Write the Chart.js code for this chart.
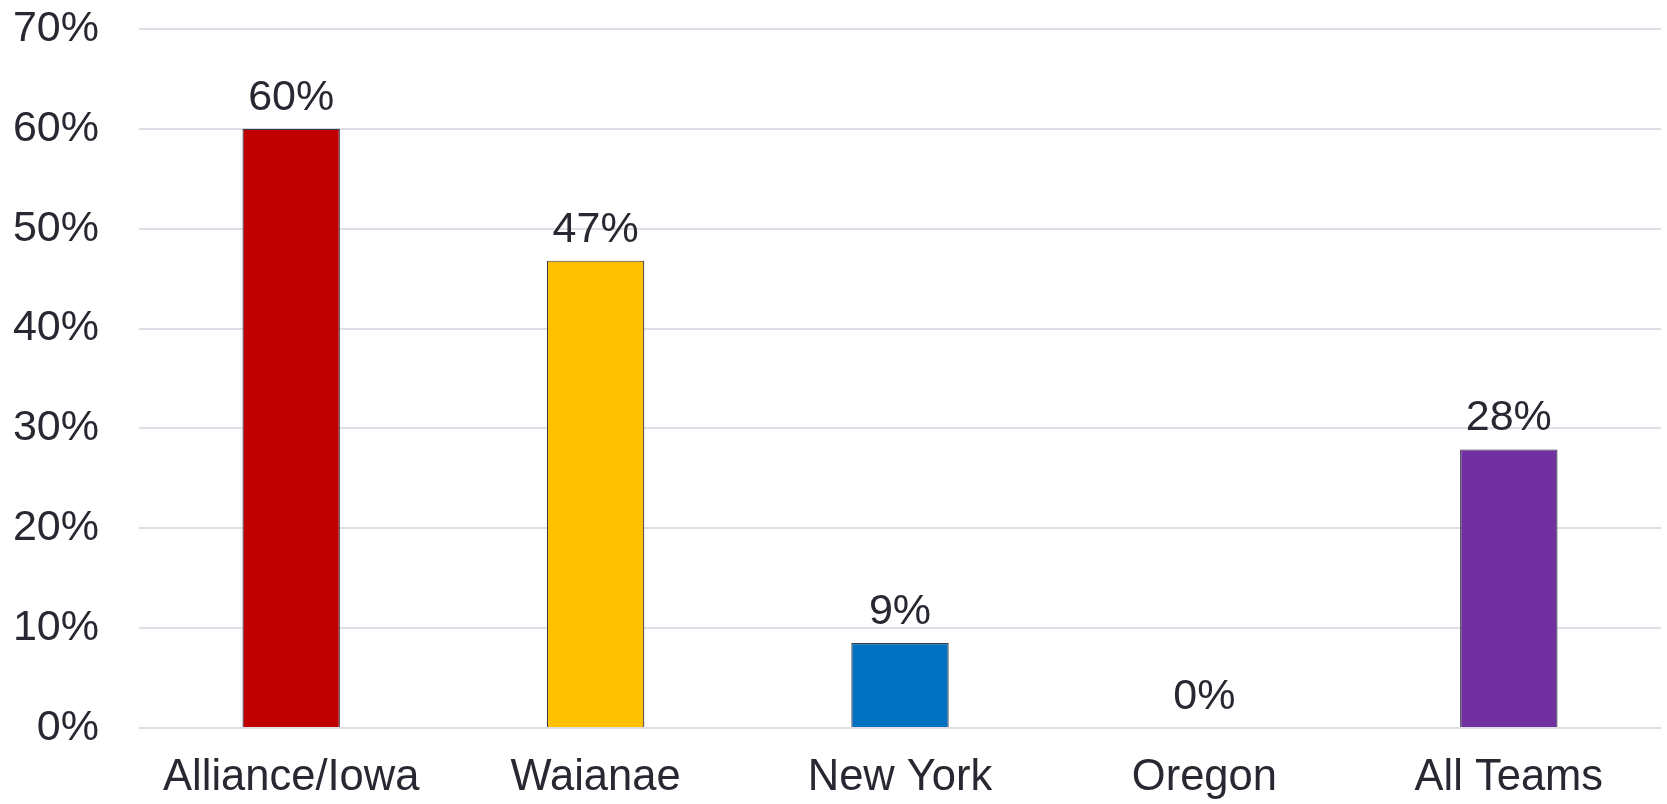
<!DOCTYPE html>
<html>
<head>
<meta charset="utf-8">
<script src="https://cdn.jsdelivr.net/npm/chart.js@4/dist/chart.umd.min.js"></script>
<style>
  html, body { margin: 0; padding: 0; background: #fff; }
  #wrap { width: 1667px; height: 804px; }
</style>
</head>
<body>
<div id="wrap"><canvas id="chart" width="1667" height="804"></canvas></div>
<script>
'use strict';

// values (percent)
const teams = ['Alliance/Iowa', 'Waianae', 'New York', 'Oregon', 'All Teams'];
const shares = [60, 46.8, 8.5, 0, 27.9];
const barColors = ['#c00000', '#ffc000', '#0070c0', '#7030a0', '#7030a0'];
const yTicks = [0, 10, 20, 30, 40, 50, 60, 70];

const TEXT = '#282832';
const FONT = '"Liberation Sans", Arial, sans-serif';

// value labels above each bar
const valueLabels = {
  id: 'valueLabels',
  afterDatasetsDraw(chart) {
    const ctx = chart.ctx;
    const meta = chart.getDatasetMeta(0);
    ctx.save();
    ctx.font = `43px ${FONT}`;
    ctx.fillStyle = TEXT;
    ctx.textAlign = 'center';
    ctx.textBaseline = 'alphabetic';
    meta.data.forEach((bar, i) => {
      ctx.fillText(Math.round(shares[i]) + '%', bar.x, bar.y - 19);
    });
    ctx.restore();
  }
};

new Chart(document.getElementById('chart'), {
  type: 'bar',
  data: {
    labels: teams,
    datasets: [{
      data: shares,
      backgroundColor: barColors,
      borderColor: '#3a3a44',
      borderWidth: 1.2,
      categoryPercentage: 1,
      barPercentage: 0.32,
    }],
  },
  options: {
    responsive: false,
    animation: false,
    layout: { padding: { top: 29, right: 6, left: 0, bottom: 0 } },
    plugins: { legend: { display: false }, tooltip: { enabled: false } },
    scales: {
      x: {
        grid: { display: false, drawTicks: false },
        border: { display: false },
        ticks: { color: TEXT, font: { family: FONT, size: 43.5 }, padding: 24, maxRotation: 0 },
        afterFit(scale) { scale.height = 76; },
      },
      y: {
        min: 0, max: 70,
        afterBuildTicks(scale) { scale.ticks = yTicks.map(v => ({ value: v })); },
        grid: { color: '#dfdee6', lineWidth: 2, drawTicks: false },
        border: { display: false },
        ticks: { color: TEXT, font: { family: FONT, size: 43 }, padding: 40, callback: v => v + '%' },
        afterFit(scale) {
          scale.width = 139;
          // tick padding would otherwise push the plot down
          scale.paddingTop = 0;
          scale.paddingBottom = 0;
        },
      },
    },
  },
  plugins: [valueLabels],
});
</script>
</body>
</html>
